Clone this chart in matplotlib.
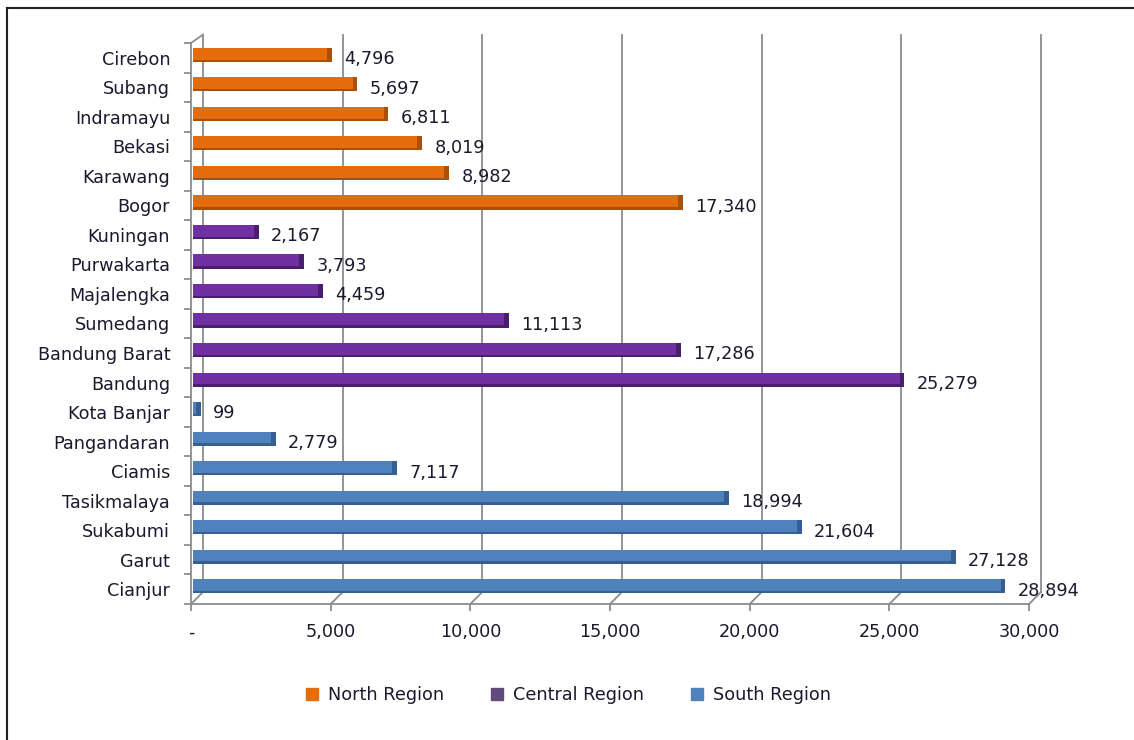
import numpy as np
import matplotlib
matplotlib.use('Agg')
import matplotlib.pyplot as plt
from matplotlib.lines import Line2D

# data, listed top to bottom as in the chart
north = ['Cirebon', 'Subang', 'Indramayu', 'Bekasi', 'Karawang', 'Bogor']
north_vals = [4796, 5697, 6811, 8019, 8982, 17340]
central = ['Kuningan', 'Purwakarta', 'Majalengka', 'Sumedang', 'Bandung Barat', 'Bandung']
central_vals = [2167, 3793, 4459, 11113, 17286, 25279]
south = ['Kota Banjar', 'Pangandaran', 'Ciamis', 'Tasikmalaya', 'Sukabumi', 'Garut', 'Cianjur']
south_vals = [99, 2779, 7117, 18994, 21604, 27128, 28894]

regions = ['North Region', 'Central Region', 'South Region']
bar_colors = ['#E46C0A', '#7030A0', '#4F81BD']
dark_colors = ['#A9500A', '#4A1E6E', '#355F92']
legend_colors = ['#E46C0A', '#604A7B', '#4F81BD']

xticks = [0, 5000, 10000, 15000, 20000, 25000, 30000]
xticklabels = ['-', '5,000', '10,000', '15,000', '20,000', '25,000', '30,000']

text_col = '#1a1a2e'
grid_col = '#8c8c8c'
plt.rcParams['font.family'] = 'DejaVu Sans'
fs = 12.7

fig = plt.figure(figsize=(11.34, 7.4), dpi=100)
W, H = 1134, 740
x0, x1 = 191, 1029
y_top, y_bot = 43, 604
ax = fig.add_axes([x0 / W, 1 - y_bot / H, (x1 - x0) / W, (y_bot - y_top) / H])

cats = north + central + south
vals = north_vals + central_vals + south_vals
groups = [0] * len(north) + [1] * len(central) + [2] * len(south)
n = len(cats)
ypos = np.arange(n)[::-1]  # top item gets highest y

ax.set_xlim(0, 30000)
ax.set_ylim(-0.5, n - 0.5)

# 3d depth offsets in data units (about 12 px)
dx = 12 * 30000 / (x1 - x0)
dy = 12 * n / (y_bot - y_top)

# back wall gridlines and floor diagonals
for v in xticks:
    ax.plot([v + dx, v + dx], [-0.5 + dy, n - 0.5 + dy * 0.7], color=grid_col, lw=1.3,
            clip_on=False, zorder=1)
    ax.plot([v, v + dx], [-0.5, -0.5 + dy], color=grid_col, lw=1.3, clip_on=False, zorder=1)
ax.plot([0, dx], [n - 0.5, n - 0.5 + dy * 0.7], color=grid_col, lw=1.3, clip_on=False, zorder=1)

# bars with a simple 3d look: front face plus a darker end face
bh = 0.48
shift = 0.1
x_off = 0.2 * dx
side = 0.4 * dx
for y, v, g in zip(ypos, vals, groups):
    yc = y + shift
    ax.barh(yc, v, left=x_off, height=bh, color=bar_colors[g], edgecolor='none', zorder=3)
    ax.barh(yc - bh / 2 + 0.04, v, left=x_off, height=0.08, color=dark_colors[g],
            edgecolor='none', zorder=3)
    ax.barh(yc, side, left=x_off + v, height=bh, color=dark_colors[g], edgecolor='none', zorder=4)
    ax.annotate(f'{v:,}', xy=(v, y), xytext=(14, -1), textcoords='offset points',
                ha='left', va='center', fontsize=fs, color=text_col, zorder=5)

# axes styling
for s in ['top', 'right']:
    ax.spines[s].set_visible(False)
for s in ['left', 'bottom']:
    ax.spines[s].set_color(grid_col)
    ax.spines[s].set_linewidth(1.3)

ax.set_xticks(xticks)
ax.set_xticklabels(xticklabels, fontsize=fs, color=text_col)
ax.tick_params(axis='x', length=5, color=grid_col, width=1.3, pad=9)

ax.set_yticks(ypos)
ax.set_yticklabels(cats, fontsize=fs, color=text_col)
ax.set_yticks(np.arange(n + 1) - 0.5, minor=True)
ax.tick_params(axis='y', which='major', length=0, pad=15)
ax.tick_params(axis='y', which='minor', length=5, color=grid_col, width=1.3)

# legend
handles = [Line2D([], [], marker='s', linestyle='none', markersize=8,
                  markerfacecolor=c, markeredgecolor=c) for c in legend_colors]
fig.legend(handles, regions, loc='center', bbox_to_anchor=(0.5, 1 - 695 / H), ncol=3,
           frameon=False, fontsize=fs, labelcolor=text_col, handletextpad=0.4,
           columnspacing=2.5, handlelength=1.0)

# left and top frame lines
fig.add_artist(Line2D([7 / W, 7 / W], [0, 1 - 8 / H], color='#222222', lw=1.5))
fig.add_artist(Line2D([7 / W, 1], [1 - 8 / H, 1 - 8 / H], color='#222222', lw=1.5))

fig.savefig('out.png', dpi=100)
